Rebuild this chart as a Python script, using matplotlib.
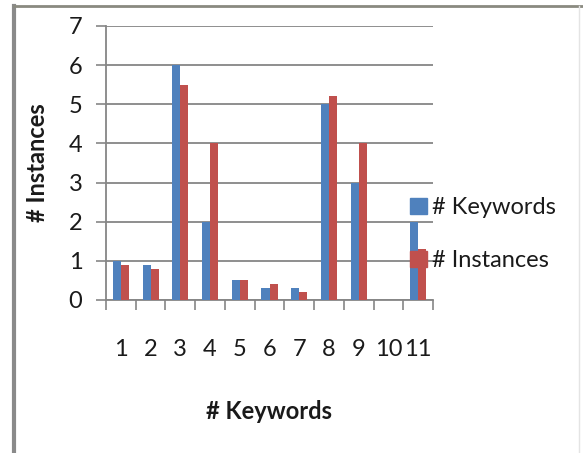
import numpy as np
import matplotlib.pyplot as plt
from matplotlib.patches import Rectangle
from matplotlib.lines import Line2D

# data
categories = ['1', '2', '3', '4', '5', '6', '7', '8', '9', '10', '11']
keywords = [1.0, 0.9, 6.0, 2.0, 0.5, 0.3, 0.3, 5.0, 3.0, 0.0, 2.0]
instances = [0.9, 0.8, 5.5, 4.0, 0.5, 0.4, 0.2, 5.2, 4.0, 0.0, 1.3]

blue = '#4F81BD'
red = '#C0504D'
grid_col = '#868686'
txt = '#1a1a1a'

plt.rcParams['font.family'] = ['Lato', 'DejaVu Sans']

fig = plt.figure(figsize=(5.83, 4.53), dpi=100)
ax = fig.add_axes([106 / 583, 1 - 300 / 453, 327 / 583, 274 / 453])

x = np.arange(len(categories))
w = 0.27
ax.bar(x - w / 2, keywords, width=w, color=blue, zorder=3, label='# Keywords')
ax.bar(x + w / 2, instances, width=w, color=red, zorder=3, label='# Instances')

ax.set_xlim(-0.5, len(categories) - 0.5)
ax.set_ylim(0, 7)
ax.set_yticks(range(0, 8))
ax.yaxis.grid(True, color=grid_col, linewidth=1.3, zorder=0)
ax.set_axisbelow(True)

# category separators as minor ticks on the x axis
ax.set_xticks(x)
ax.set_xticklabels(categories)
ax.set_xticks(np.arange(-0.5, len(categories)), minor=True)
ax.tick_params(axis='x', which='major', length=0, pad=28, labelsize=17, colors=txt)
ax.tick_params(axis='x', which='minor', length=7, width=1.2, color=grid_col, direction='out')
ax.tick_params(axis='y', length=7, width=1.2, color=grid_col, labelsize=17, pad=10,
               labelcolor=txt)

for s in ['top', 'right']:
    ax.spines[s].set_visible(False)
for s in ['left', 'bottom']:
    ax.spines[s].set_color(grid_col)
    ax.spines[s].set_linewidth(1.3)

ax.set_ylabel('# Instances', fontsize=17, fontweight='bold', labelpad=14, color=txt)
ax.set_xlabel('# Keywords', fontsize=17, fontweight='bold', labelpad=29, color=txt)

handles = [Rectangle((0, 0), 1, 1, color=blue), Rectangle((0, 0), 1, 1, color=red)]
fig.legend(handles, ['# Keywords', '# Instances'], loc='upper left',
           bbox_to_anchor=(389 / 583, 1 - 176 / 453), frameon=False, fontsize=17,
           handlelength=0.7, handleheight=0.7, handletextpad=0.2, labelspacing=1.35,
           labelcolor=txt)

# chart border
fig.add_artist(Line2D([14 / 583, 14 / 583], [0, 1 - 6 / 453], transform=fig.transFigure,
                      color='#8a8a8a', linewidth=3))
fig.add_artist(Line2D([14 / 583, 1], [1 - 6 / 453, 1 - 6 / 453], transform=fig.transFigure,
                      color='#8a8a80', linewidth=2))
fig.add_artist(Line2D([579 / 583, 579 / 583], [0, 1 - 6 / 453], transform=fig.transFigure,
                      color='#e4e4e4', linewidth=1))

fig.savefig('out.png', dpi=100)
